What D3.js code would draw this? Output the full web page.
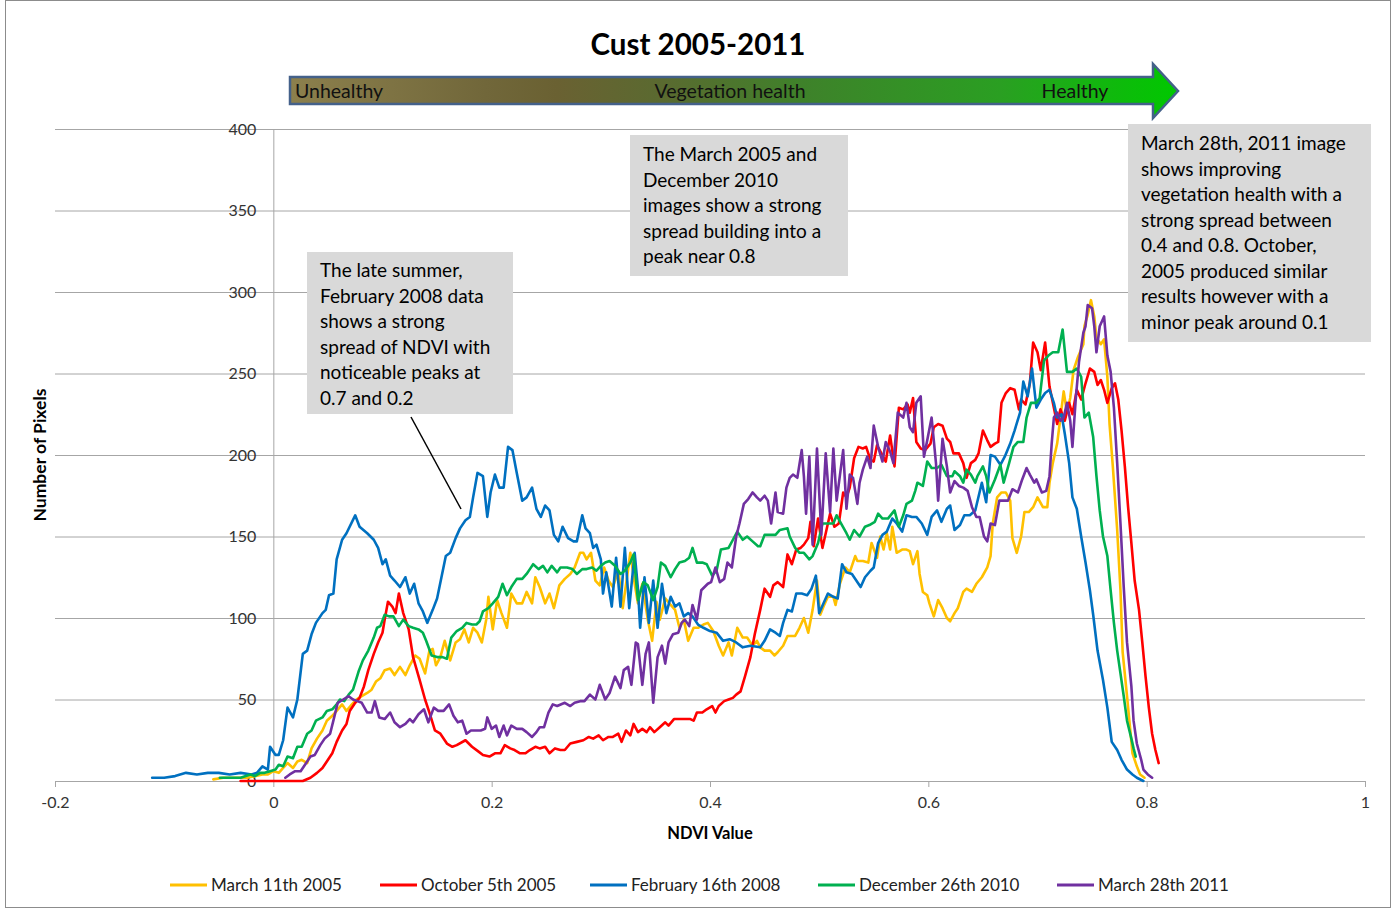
<!DOCTYPE html>
<html><head><meta charset="utf-8">
<script src="https://cdn.jsdelivr.net/npm/d3@7"></script>
<style>body{margin:0;background:#fff} svg{display:block}</style>
</head><body>
<svg id="c" width="1400" height="909"></svg>
<script>
// ---------------- DATA ----------------
const chartTitle = "Cust 2005-2011";
const xLabel = "NDVI Value";
const yLabel = "Number of Pixels";
const xTicks = [-0.2, 0, 0.2, 0.4, 0.6, 0.8, 1];
const yTicks = [0, 50, 100, 150, 200, 250, 300, 350, 400];
const seriesNames = ["March 11th 2005", "October 5th 2005", "February 16th 2008", "December 26th 2010", "March 28th 2011"];
const seriesColors = ["#FFC000", "#FF0000", "#0070C0", "#00B050", "#7030A0"];

// [NDVI, pixel count]
const march2005 = [[-0.055,1],[-0.046,2],[-0.033,2],[-0.024,2],[-0.017,3],[-0.010,4],[-0.005,4],[0.000,6],[0.005,5],[0.009,8],[0.013,11],[0.018,8],[0.022,12],[0.026,13],[0.031,11],[0.035,20],[0.040,26],[0.045,31],[0.049,37],[0.054,40],[0.058,43],[0.063,47],[0.067,43],[0.072,47],[0.076,50],[0.081,52],[0.086,54],[0.090,56],[0.094,61],[0.098,63],[0.102,68],[0.107,69],[0.111,65],[0.116,70],[0.121,65],[0.125,71],[0.130,77],[0.134,75],[0.139,66],[0.143,80],[0.146,81],[0.149,71],[0.153,76],[0.157,86],[0.162,74],[0.167,85],[0.171,87],[0.175,93],[0.179,85],[0.183,94],[0.187,91],[0.191,85],[0.195,99],[0.197,113],[0.201,93],[0.205,111],[0.209,103],[0.214,94],[0.218,115],[0.223,109],[0.228,109],[0.232,116],[0.237,109],[0.240,125],[0.244,119],[0.249,109],[0.253,115],[0.257,106],[0.262,120],[0.267,124],[0.272,127],[0.276,131],[0.281,140],[0.284,140],[0.287,136],[0.291,140],[0.295,123],[0.299,120],[0.303,131],[0.307,123],[0.311,119],[0.316,129],[0.320,106],[0.324,125],[0.327,140],[0.331,121],[0.334,109],[0.338,121],[0.343,99],[0.347,86],[0.351,110],[0.354,99],[0.359,112],[0.364,108],[0.368,105],[0.372,94],[0.376,99],[0.380,86],[0.385,94],[0.389,94],[0.394,96],[0.398,97],[0.403,92],[0.408,83],[0.412,77],[0.417,85],[0.420,77],[0.425,94],[0.430,88],[0.434,88],[0.439,83],[0.443,86],[0.446,82],[0.450,80],[0.455,80],[0.459,77],[0.462,79],[0.467,83],[0.471,89],[0.478,89],[0.482,94],[0.486,100],[0.490,91],[0.494,105],[0.498,123],[0.501,102],[0.504,107],[0.508,113],[0.513,113],[0.515,108],[0.519,121],[0.524,131],[0.528,128],[0.533,138],[0.535,135],[0.540,135],[0.545,134],[0.548,146],[0.553,137],[0.556,150],[0.559,142],[0.562,152],[0.565,142],[0.567,156],[0.571,140],[0.576,142],[0.580,142],[0.583,141],[0.586,133],[0.590,141],[0.592,127],[0.595,116],[0.599,114],[0.601,109],[0.605,101],[0.609,111],[0.613,106],[0.617,100],[0.620,98],[0.624,103],[0.627,106],[0.632,116],[0.635,118],[0.640,116],[0.644,121],[0.649,125],[0.654,131],[0.657,138],[0.659,158],[0.663,174],[0.667,177],[0.671,177],[0.675,172],[0.677,149],[0.681,140],[0.685,150],[0.688,165],[0.692,165],[0.696,168],[0.700,174],[0.705,168],[0.709,168],[0.711,183],[0.714,195],[0.718,207],[0.721,223],[0.724,239],[0.727,226],[0.730,235],[0.733,252],[0.737,260],[0.742,268],[0.743,279],[0.746,286],[0.749,295],[0.752,285],[0.754,272],[0.758,268],[0.761,271],[0.764,248],[0.766,219],[0.769,193],[0.773,154],[0.776,117],[0.778,79],[0.782,52],[0.785,31],[0.787,17],[0.791,9],[0.794,4],[0.798,2]];

const october2005 = [[-0.030,0],[-0.010,0],[0.010,0],[0.027,0],[0.034,2],[0.040,5],[0.045,8],[0.049,12],[0.054,17],[0.058,24],[0.063,31],[0.067,35],[0.070,43],[0.075,48],[0.079,51],[0.083,58],[0.087,68],[0.092,78],[0.096,85],[0.100,91],[0.102,99],[0.105,110],[0.109,107],[0.112,103],[0.115,115],[0.119,103],[0.124,93],[0.128,76],[0.134,62],[0.139,50],[0.143,42],[0.148,31],[0.153,29],[0.159,23],[0.164,21],[0.168,22],[0.176,25],[0.182,21],[0.188,18],[0.192,16],[0.198,15],[0.203,17],[0.208,17],[0.212,22],[0.217,20],[0.221,19],[0.226,17],[0.231,17],[0.235,19],[0.240,21],[0.244,20],[0.249,21],[0.253,17],[0.258,20],[0.263,19],[0.267,19],[0.272,23],[0.278,24],[0.284,25],[0.289,27],[0.293,26],[0.298,28],[0.302,25],[0.307,27],[0.311,27],[0.316,29],[0.319,24],[0.323,31],[0.327,28],[0.330,35],[0.334,30],[0.338,32],[0.342,30],[0.345,33],[0.349,30],[0.354,33],[0.359,36],[0.362,34],[0.367,38],[0.371,38],[0.376,38],[0.382,38],[0.385,37],[0.388,42],[0.393,42],[0.397,44],[0.402,46],[0.405,42],[0.408,46],[0.413,49],[0.417,50],[0.421,51],[0.424,53],[0.428,55],[0.432,64],[0.437,76],[0.441,90],[0.446,105],[0.450,118],[0.455,113],[0.458,120],[0.462,122],[0.467,119],[0.471,139],[0.475,133],[0.479,142],[0.483,143],[0.486,145],[0.490,149],[0.492,159],[0.495,144],[0.499,161],[0.503,143],[0.510,164],[0.514,156],[0.518,158],[0.522,177],[0.525,174],[0.528,180],[0.532,198],[0.536,205],[0.540,204],[0.543,205],[0.547,197],[0.550,196],[0.553,206],[0.557,201],[0.561,196],[0.565,212],[0.569,193],[0.573,229],[0.577,228],[0.581,231],[0.583,226],[0.586,235],[0.589,208],[0.593,204],[0.597,203],[0.602,207],[0.605,217],[0.609,219],[0.613,218],[0.617,210],[0.620,208],[0.623,201],[0.628,201],[0.632,195],[0.635,186],[0.639,195],[0.643,197],[0.646,201],[0.650,215],[0.654,209],[0.657,205],[0.661,207],[0.664,208],[0.667,232],[0.671,238],[0.675,241],[0.679,240],[0.683,228],[0.685,234],[0.689,231],[0.693,244],[0.696,269],[0.700,263],[0.703,252],[0.707,269],[0.711,242],[0.715,229],[0.718,219],[0.721,228],[0.725,221],[0.729,232],[0.732,225],[0.736,240],[0.740,234],[0.744,244],[0.748,253],[0.752,251],[0.755,243],[0.758,246],[0.761,240],[0.764,232],[0.768,241],[0.771,244],[0.774,234],[0.777,215],[0.780,193],[0.783,168],[0.786,146],[0.789,123],[0.793,105],[0.796,85],[0.799,64],[0.802,45],[0.805,29],[0.808,19],[0.811,11]];

const february2008 = [[-0.111,2],[-0.100,2],[-0.090,3],[-0.080,5],[-0.070,4],[-0.060,5],[-0.050,5],[-0.040,4],[-0.030,5],[-0.020,4],[-0.015,5],[-0.010,9],[-0.005,7],[-0.003,21],[0.002,16],[0.005,16],[0.009,25],[0.013,45],[0.018,39],[0.022,50],[0.027,78],[0.031,80],[0.035,90],[0.039,97],[0.045,103],[0.048,105],[0.051,114],[0.055,115],[0.058,136],[0.063,148],[0.067,152],[0.075,163],[0.079,156],[0.086,152],[0.092,148],[0.096,143],[0.100,133],[0.103,136],[0.107,126],[0.111,123],[0.116,119],[0.121,125],[0.125,115],[0.129,121],[0.133,109],[0.137,104],[0.141,97],[0.146,105],[0.150,112],[0.154,125],[0.158,138],[0.162,140],[0.167,149],[0.171,155],[0.176,160],[0.180,162],[0.183,174],[0.187,189],[0.192,187],[0.196,162],[0.199,177],[0.203,188],[0.207,180],[0.211,180],[0.215,205],[0.219,203],[0.223,189],[0.228,172],[0.232,174],[0.237,180],[0.241,167],[0.245,162],[0.249,169],[0.253,166],[0.257,151],[0.261,147],[0.265,156],[0.270,149],[0.275,147],[0.278,147],[0.283,163],[0.286,155],[0.290,152],[0.293,143],[0.296,145],[0.300,136],[0.302,115],[0.305,128],[0.310,107],[0.314,137],[0.318,107],[0.322,143],[0.326,106],[0.331,140],[0.334,118],[0.336,94],[0.340,125],[0.344,97],[0.348,123],[0.352,94],[0.356,121],[0.360,103],[0.364,113],[0.368,107],[0.372,109],[0.376,101],[0.380,103],[0.384,101],[0.389,96],[0.394,94],[0.400,92],[0.406,91],[0.412,86],[0.418,87],[0.424,85],[0.430,82],[0.437,83],[0.446,82],[0.450,86],[0.455,93],[0.460,91],[0.464,89],[0.467,97],[0.471,105],[0.475,104],[0.479,115],[0.484,115],[0.489,114],[0.493,118],[0.497,126],[0.500,103],[0.504,109],[0.508,115],[0.513,113],[0.517,112],[0.521,133],[0.525,128],[0.530,127],[0.534,123],[0.538,119],[0.542,125],[0.547,129],[0.550,131],[0.554,146],[0.558,151],[0.562,153],[0.567,161],[0.571,158],[0.576,153],[0.580,163],[0.585,162],[0.589,162],[0.594,158],[0.599,151],[0.603,162],[0.608,166],[0.612,159],[0.617,167],[0.620,169],[0.624,154],[0.629,157],[0.633,163],[0.638,163],[0.643,166],[0.649,183],[0.653,171],[0.657,200],[0.661,199],[0.666,194],[0.670,199],[0.675,207],[0.679,215],[0.684,226],[0.687,245],[0.691,236],[0.695,253],[0.699,229],[0.703,234],[0.707,238],[0.711,240],[0.715,232],[0.718,223],[0.722,225],[0.725,213],[0.729,195],[0.732,174],[0.736,167],[0.740,150],[0.744,134],[0.748,117],[0.751,102],[0.755,80],[0.760,62],[0.764,45],[0.768,24],[0.773,19],[0.777,13],[0.782,7],[0.787,4],[0.791,2],[0.797,0]];

const december2010 = [[-0.049,2],[-0.040,2],[-0.030,2],[-0.021,4],[-0.017,3],[-0.012,5],[-0.008,5],[-0.003,6],[0.002,7],[0.005,10],[0.009,9],[0.013,15],[0.018,14],[0.022,21],[0.026,21],[0.031,29],[0.035,31],[0.039,37],[0.045,39],[0.049,43],[0.054,44],[0.058,47],[0.061,50],[0.065,49],[0.069,53],[0.073,56],[0.078,67],[0.082,74],[0.087,80],[0.092,88],[0.095,94],[0.098,95],[0.102,102],[0.106,101],[0.110,101],[0.115,95],[0.119,99],[0.124,95],[0.128,94],[0.133,93],[0.137,91],[0.140,86],[0.145,77],[0.150,76],[0.155,76],[0.159,75],[0.163,88],[0.168,92],[0.173,94],[0.177,97],[0.182,96],[0.186,96],[0.189,98],[0.192,104],[0.197,106],[0.201,109],[0.206,113],[0.210,121],[0.214,114],[0.218,119],[0.223,124],[0.228,124],[0.232,127],[0.235,130],[0.238,133],[0.243,130],[0.247,132],[0.251,128],[0.255,132],[0.260,128],[0.263,131],[0.269,131],[0.274,130],[0.278,127],[0.283,130],[0.287,130],[0.292,131],[0.296,129],[0.300,132],[0.304,134],[0.308,135],[0.313,132],[0.318,127],[0.322,129],[0.327,134],[0.330,139],[0.334,111],[0.339,122],[0.343,120],[0.348,111],[0.352,119],[0.355,134],[0.359,132],[0.364,125],[0.368,130],[0.372,134],[0.377,135],[0.381,137],[0.384,143],[0.388,134],[0.393,134],[0.397,133],[0.402,126],[0.406,129],[0.410,142],[0.417,143],[0.421,148],[0.425,153],[0.430,148],[0.434,150],[0.439,147],[0.444,144],[0.446,144],[0.450,151],[0.455,151],[0.460,151],[0.464,154],[0.471,155],[0.473,150],[0.478,143],[0.482,140],[0.486,140],[0.491,136],[0.494,138],[0.499,146],[0.503,158],[0.508,158],[0.513,158],[0.516,163],[0.520,158],[0.525,152],[0.528,148],[0.532,154],[0.537,150],[0.542,156],[0.546,157],[0.551,159],[0.554,164],[0.558,161],[0.563,161],[0.569,166],[0.573,156],[0.577,163],[0.580,170],[0.585,172],[0.588,178],[0.590,183],[0.595,181],[0.599,196],[0.603,192],[0.608,192],[0.612,194],[0.617,187],[0.622,187],[0.624,190],[0.629,187],[0.632,183],[0.635,191],[0.639,188],[0.643,183],[0.645,187],[0.650,193],[0.653,187],[0.656,177],[0.661,185],[0.666,194],[0.669,183],[0.674,195],[0.678,205],[0.682,208],[0.687,208],[0.690,223],[0.694,232],[0.699,232],[0.702,235],[0.706,258],[0.710,261],[0.714,263],[0.719,263],[0.723,277],[0.727,251],[0.732,251],[0.736,253],[0.740,248],[0.743,223],[0.747,226],[0.751,211],[0.754,187],[0.757,166],[0.760,150],[0.764,138],[0.767,117],[0.770,97],[0.773,80],[0.776,66],[0.779,52],[0.782,37],[0.786,26],[0.788,20],[0.790,15]];

const march2011 = [[0.011,2],[0.015,4],[0.020,6],[0.025,6],[0.029,10],[0.034,15],[0.038,16],[0.043,22],[0.047,26],[0.052,29],[0.055,37],[0.059,48],[0.064,50],[0.069,52],[0.073,50],[0.077,49],[0.081,48],[0.086,42],[0.090,42],[0.093,49],[0.097,39],[0.102,38],[0.107,42],[0.111,36],[0.116,33],[0.121,35],[0.125,38],[0.128,36],[0.133,41],[0.138,44],[0.142,36],[0.147,45],[0.151,43],[0.156,43],[0.161,47],[0.165,40],[0.169,36],[0.173,37],[0.177,29],[0.181,31],[0.185,31],[0.190,31],[0.194,32],[0.196,39],[0.200,32],[0.204,34],[0.207,27],[0.211,34],[0.214,28],[0.218,34],[0.223,32],[0.228,32],[0.232,30],[0.237,27],[0.241,30],[0.244,33],[0.248,33],[0.252,42],[0.256,47],[0.260,46],[0.267,48],[0.272,46],[0.276,48],[0.281,49],[0.285,49],[0.290,53],[0.295,50],[0.299,59],[0.304,50],[0.308,54],[0.313,64],[0.318,57],[0.321,68],[0.325,70],[0.328,59],[0.332,85],[0.334,84],[0.338,59],[0.341,78],[0.344,85],[0.348,48],[0.352,76],[0.356,83],[0.359,72],[0.362,85],[0.366,90],[0.371,91],[0.374,97],[0.377,99],[0.381,95],[0.384,108],[0.388,99],[0.392,117],[0.395,119],[0.398,121],[0.401,122],[0.405,131],[0.409,122],[0.413,124],[0.416,134],[0.420,131],[0.424,150],[0.427,158],[0.431,170],[0.435,173],[0.439,177],[0.443,174],[0.446,172],[0.450,175],[0.453,172],[0.456,158],[0.460,177],[0.462,165],[0.467,164],[0.470,180],[0.473,186],[0.476,188],[0.480,186],[0.484,203],[0.486,187],[0.488,164],[0.491,199],[0.494,145],[0.498,204],[0.502,151],[0.506,201],[0.510,165],[0.513,204],[0.516,172],[0.522,203],[0.525,167],[0.528,188],[0.531,186],[0.535,170],[0.537,183],[0.540,191],[0.544,199],[0.547,192],[0.550,218],[0.554,205],[0.558,196],[0.561,208],[0.565,202],[0.568,195],[0.572,226],[0.577,223],[0.580,232],[0.583,217],[0.586,214],[0.589,232],[0.593,236],[0.596,199],[0.599,209],[0.603,223],[0.607,195],[0.609,172],[0.613,210],[0.617,193],[0.620,177],[0.624,184],[0.628,181],[0.632,180],[0.636,178],[0.640,168],[0.644,162],[0.647,162],[0.651,150],[0.654,147],[0.657,158],[0.661,157],[0.665,172],[0.668,172],[0.673,172],[0.677,179],[0.682,177],[0.686,185],[0.690,192],[0.693,188],[0.697,183],[0.699,185],[0.704,177],[0.708,178],[0.711,187],[0.713,207],[0.715,223],[0.718,226],[0.721,221],[0.724,223],[0.727,232],[0.730,221],[0.732,205],[0.735,234],[0.738,257],[0.742,275],[0.744,279],[0.746,292],[0.750,290],[0.752,279],[0.754,263],[0.757,279],[0.761,285],[0.764,261],[0.767,251],[0.770,229],[0.773,195],[0.776,158],[0.779,119],[0.782,85],[0.786,58],[0.788,37],[0.791,23],[0.795,13],[0.797,7],[0.801,4],[0.805,2]];

const seriesData = [march2005, october2005, february2008, december2010, march2011];

const arrowLabels = ["Unhealthy", "Vegetation health", "Healthy"];
const noteFeb2008 = ["The late summer,", "February 2008 data", "shows a strong", "spread of NDVI with", "noticeable peaks at", "0.7 and 0.2"];
const noteMarDec = ["The March 2005 and", "December 2010", "images show a strong", "spread building into a", "peak near 0.8"];
const noteMar2011 = ["March 28th, 2011 image", "shows improving", "vegetation health with a", "strong spread between", "0.4 and 0.8. October,", "2005 produced similar", "results however with a", "minor peak around 0.1"];

// ---------------- DRAW ----------------
const FONT = "Lato, 'Open Sans', sans-serif";
const svg = d3.select("#c");
const W = 1400, H = 909;
const pLeft = 55, pRight = 1365, pTop = 129, pBottom = 781;

const x = d3.scaleLinear().domain([-0.2, 1]).range([pLeft, pRight]);
const y = d3.scaleLinear().domain([0, 400]).range([pBottom, pTop]);

svg.append("rect").attr("x", 0).attr("y", 0).attr("width", W).attr("height", H).attr("fill", "#fff");
svg.append("rect").attr("x", 5.5).attr("y", 0.5).attr("width", 1385).attr("height", 907)
  .attr("fill", "none").attr("stroke", "#8c8c8c").attr("stroke-width", 1);

// gridlines
const grid = svg.append("g").attr("transform", `translate(${pRight},0)`)
  .call(d3.axisLeft(y).tickValues(yTicks.filter(d => d > 0)).tickSize(pRight - pLeft).tickFormat(""));
grid.select(".domain").remove();
grid.selectAll("line").attr("stroke", "#a6a6a6").attr("stroke-width", 1);

// x axis
const xa = svg.append("g").attr("transform", `translate(0,${pBottom})`)
  .call(d3.axisBottom(x).tickValues(xTicks).tickSize(6).tickPadding(10)
    .tickFormat(d => d === 0 ? "0" : String(d)));
xa.select(".domain").attr("stroke", "#a6a6a6").attr("d", `M${pLeft},0.5H${pRight}`);
xa.selectAll("line").attr("stroke", "#a6a6a6");
xa.selectAll("text").attr("font-family", FONT).attr("font-size", 16).attr("fill", "#333");

// y axis (at x = 0)
const ya = svg.append("g").attr("transform", `translate(${x(0)},0)`)
  .call(d3.axisLeft(y).tickValues(yTicks).tickSize(0).tickPadding(17));
ya.select(".domain").attr("stroke", "#a6a6a6");
ya.selectAll("text").attr("font-family", FONT).attr("font-size", 16).attr("fill", "#333");

// series
const line = d3.line().x(d => x(d[0])).y(d => y(d[1]));
seriesData.forEach((data, i) => {
  svg.append("path").datum(data).attr("d", line)
    .attr("fill", "none").attr("stroke", seriesColors[i]).attr("stroke-width", 2.6)
    .attr("stroke-linejoin", "round").attr("stroke-linecap", "round");
});

// title
svg.append("text").attr("x", 698).attr("y", 55).attr("text-anchor", "middle")
  .attr("font-family", FONT).attr("font-weight", "bold").attr("font-size", 29.5).attr("fill", "#000")
  .text(chartTitle);

// axis titles
svg.append("text").attr("x", 710).attr("y", 839).attr("text-anchor", "middle")
  .attr("font-family", FONT).attr("font-weight", "bold").attr("font-size", 16.5).attr("fill", "#000")
  .text(xLabel);
svg.append("text").attr("transform", "translate(46,455) rotate(-90)").attr("text-anchor", "middle")
  .attr("font-family", FONT).attr("font-weight", "bold").attr("font-size", 17.5).attr("fill", "#000")
  .text(yLabel);

// gradient arrow
const defs = svg.append("defs");
const grad = defs.append("linearGradient").attr("id", "veg").attr("x1", "0%").attr("x2", "100%");
[[0, "#8c804d"], [0.22, "#71673a"], [0.3, "#6a6132"], [0.42, "#5a6a30"], [0.58, "#3e822a"], [0.8, "#2a9f22"], [1, "#00c800"]]
  .forEach(s => grad.append("stop").attr("offset", s[0]).attr("stop-color", s[1]));
svg.append("path")
  .attr("d", "M290,77 H1153 V64 L1178,91 L1153,118 V104 H290 Z")
  .attr("fill", "url(#veg)").attr("stroke", "#44618a").attr("stroke-width", 2.5).attr("stroke-linejoin", "miter");
const arrowX = [295, 730, 1075];
const arrowAnchor = ["start", "middle", "middle"];
arrowLabels.forEach((t, i) => {
  svg.append("text").attr("x", arrowX[i]).attr("y", 98).attr("text-anchor", arrowAnchor[i])
    .attr("font-family", FONT).attr("font-size", 19.5).attr("fill", "#111").text(t);
});

// annotation boxes
function note(lines, bx, by, bw, bh, tx, ty0) {
  svg.append("rect").attr("x", bx).attr("y", by).attr("width", bw).attr("height", bh).attr("fill", "#d9d9d9");
  lines.forEach((t, i) => {
    svg.append("text").attr("x", tx).attr("y", ty0 + i * 25.5)
      .attr("font-family", FONT).attr("font-size", 19).attr("fill", "#000").text(t);
  });
}
note(noteFeb2008, 307, 252, 206, 162, 320, 277);
svg.append("line").attr("x1", 411).attr("y1", 417).attr("x2", 461).attr("y2", 509)
  .attr("stroke", "#000").attr("stroke-width", 1.5);
note(noteMarDec, 630, 135, 218, 141, 643, 161);
note(noteMar2011, 1128, 124, 243, 218, 1141, 150);

// legend
const legendX = [170, 380, 590, 818, 1057];
seriesNames.forEach((n, i) => {
  const g = svg.append("g").attr("transform", `translate(${legendX[i]},885)`);
  g.append("line").attr("x1", 0).attr("x2", 37).attr("stroke", seriesColors[i]).attr("stroke-width", 3);
  g.append("text").attr("x", 41).attr("y", 6).attr("font-family", FONT).attr("font-size", 17)
    .attr("fill", "#222").text(n);
});
</script>
</body></html>
